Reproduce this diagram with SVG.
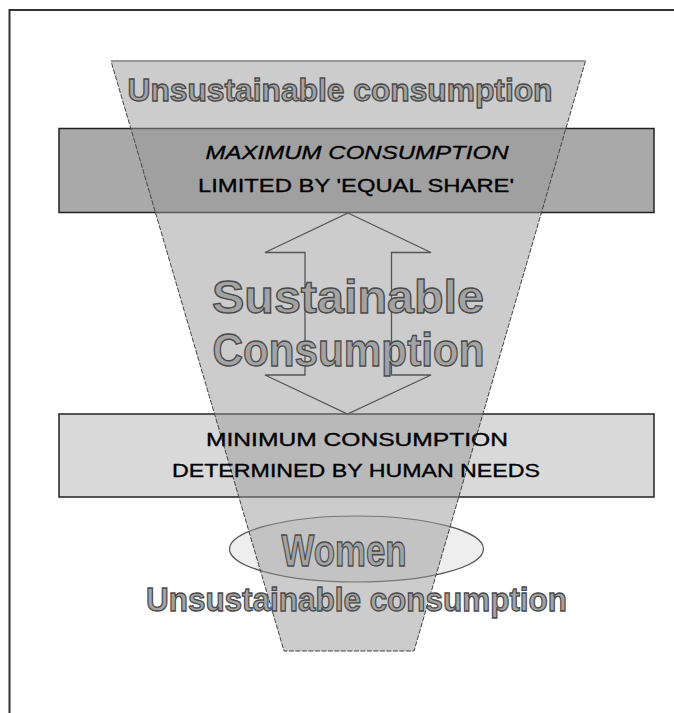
<svg xmlns="http://www.w3.org/2000/svg" width="674" height="713" viewBox="0 0 674 713">
  <style>
    .box { stroke: #222; stroke-width: 1.5; }
    .big { font-family: "Liberation Sans", Arial, sans-serif; font-weight: bold; fill: #a3a3a3; stroke: #4a4a4a; stroke-width: 1.3; text-anchor: middle; }
    .small { font-family: "Liberation Sans", Arial, sans-serif; font-size: 19px; fill: #000; stroke: #000; stroke-width: 0.35; text-anchor: middle; }
  </style>
  <rect x="0" y="0" width="674" height="713" fill="#ffffff"/>
  <path id="frame" d="M9.5 713 V10 H674" fill="none" stroke="#333" stroke-width="2"/>

  <g id="women">
    <ellipse cx="356.5" cy="549" rx="127" ry="33" fill="#eeeeee" stroke="#555" stroke-width="1.2"/>
  </g>

  <g id="max-consumption">
    <rect class="box" x="59" y="128.5" width="595" height="84" fill="#a9a9a9"/>
  </g>
  <g id="min-consumption">
    <rect class="box" x="59" y="414" width="595" height="83" fill="#d9d9d9"/>
  </g>

  <g id="funnel">
    <polygon points="111,61 585.5,61 414,651 284,651" fill="#979797" fill-opacity="0.49" stroke="#444" stroke-width="1" stroke-dasharray="5 1.5"/>
    <line x1="111" y1="61" x2="585.5" y2="61" stroke="#999" stroke-width="2"/>
  </g>

  <g id="connectors">
    <polygon points="348,213 431,252.5 391.5,252.5 391.5,375 431,375 347.5,414 265,375 305,375 305,252.5 265,252.5" fill="none" stroke="#555" stroke-width="1.3" stroke-linejoin="miter"/>
  </g>

  <g id="labels">
    <text class="big" x="340" y="101" font-size="32" textLength="425" lengthAdjust="spacingAndGlyphs">Unsustainable consumption</text>
    <text class="small" x="357" y="159" font-style="italic" textLength="303" lengthAdjust="spacingAndGlyphs">MAXIMUM CONSUMPTION</text>
    <text class="small" x="356" y="191.5" textLength="316" lengthAdjust="spacingAndGlyphs">LIMITED BY 'EQUAL SHARE'</text>
    <text class="big" x="348" y="313" font-size="46" textLength="272" lengthAdjust="spacingAndGlyphs">Sustainable</text>
    <text class="big" x="348.5" y="366" font-size="46" textLength="272" lengthAdjust="spacingAndGlyphs">Consumption</text>
    <text class="small" x="357" y="446" textLength="302" lengthAdjust="spacingAndGlyphs">MINIMUM CONSUMPTION</text>
    <text class="small" x="356" y="476.5" textLength="368" lengthAdjust="spacingAndGlyphs">DETERMINED BY HUMAN NEEDS</text>
    <text class="big" x="344" y="566" font-size="44" textLength="125" lengthAdjust="spacingAndGlyphs">Women</text>
    <text class="big" x="356.5" y="611" font-size="34" textLength="421" lengthAdjust="spacingAndGlyphs">Unsustainable consumption</text>
  </g>
</svg>
